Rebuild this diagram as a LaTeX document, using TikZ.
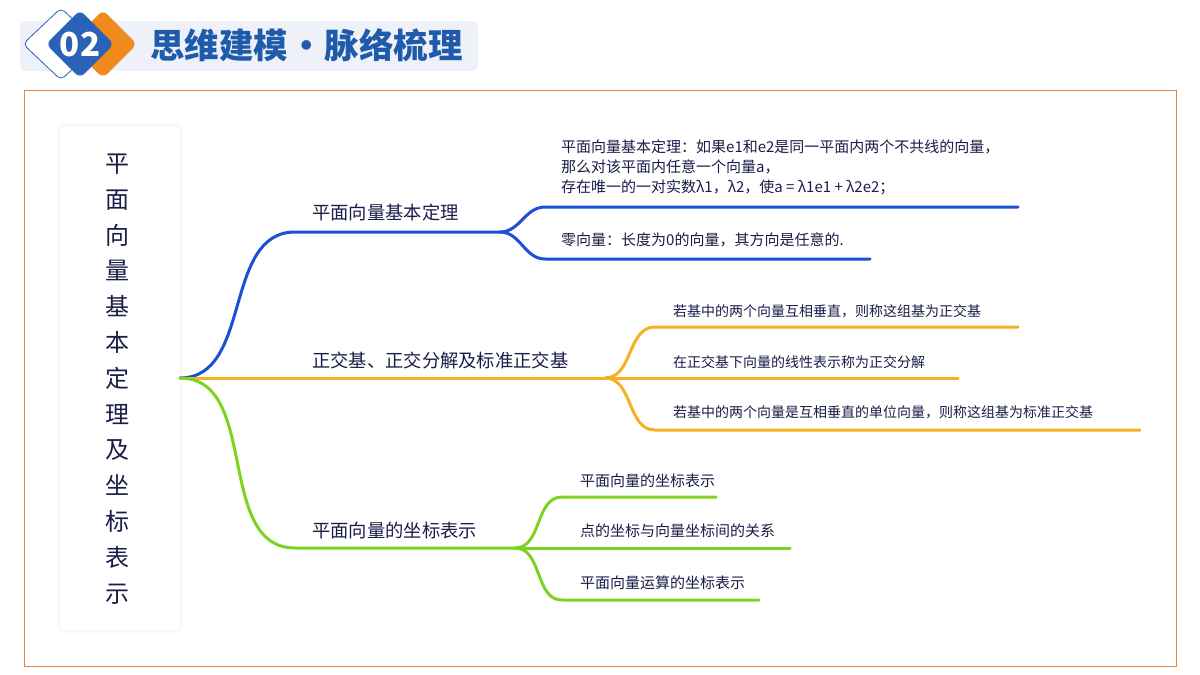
\documentclass[tikz,border=0pt]{standalone}
\usepackage{fontspec}
\setmainfont{Noto Sans CJK SC}
\definecolor{ink}{HTML}{1A1D48}
\definecolor{titleblue}{HTML}{1F5BAA}
\definecolor{hdrbg}{HTML}{EEF2F8}
\definecolor{dblue}{HTML}{2A62B8}
\definecolor{dorange}{HTML}{F08A1C}
\definecolor{frameor}{HTML}{E8833A}
\definecolor{bblue}{HTML}{1A4FD6}
\definecolor{borange}{HTML}{F4B223}
\definecolor{bgreen}{HTML}{7ED321}
\tikzset{
  branch/.style={line width=3pt, line cap=round},
  mainlabel/.style={anchor=west, inner sep=0pt, text=ink, font=\fontsize{18.3}{20}\selectfont},
  sublabel/.style={anchor=west, inner sep=0pt, text=ink, font=\fontsize{14}{20}\selectfont},
  sublabelb/.style={anchor=west, inner sep=0pt, text=ink, font=\fontsize{15}{20}\selectfont},
}
\begin{document}
\begin{tikzpicture}[x=1pt,y=-1pt]
\useasboundingbox (0,0) rectangle (1200,675);
\fill[white] (0,0) rectangle (1200,675);
% header
\fill[hdrbg, rounded corners=6pt] (20,21) rectangle (478,71);
\draw[dblue, line width=0.8pt, fill=white, rounded corners=5pt] (23,44) -- (61,8) -- (99,44) -- (61,80) -- cycle;
\fill[dorange, rounded corners=6pt] (69,44) -- (103,10) -- (137,44) -- (103,78) -- cycle;
\fill[dblue, rounded corners=6pt] (46,44) -- (80,10) -- (114,44) -- (80,78) -- cycle;
\node[text=white, font=\fontsize{33}{34}\selectfont\bfseries] (num) at (80,45) {02};
\node[anchor=west, inner sep=0pt, text=titleblue, font=\fontsize{34.5}{36}\selectfont\bfseries] (title) at (150,45) {思维建模\hspace{1pt}·\hspace{1pt}脉络梳理};
% frame
\draw[frameor, line width=1pt] (24,90) rectangle (1176,666);
% card
\fill[black!2, rounded corners=8pt] (57,123) rectangle (183,633);
\fill[black!4, rounded corners=7pt] (59,125) rectangle (181,631);
\fill[white, rounded corners=6pt] (60,126) rectangle (180,630);
\node[text=ink, align=center, inner sep=0pt, font=\fontsize{24}{35.8}\selectfont] (vt) at (117,379) {平\\面\\向\\量\\基\\本\\定\\理\\及\\坐\\标\\表\\示};
% coordinates
\coordinate (root) at (180,378);
\coordinate (b1) at (295,232);
\coordinate (b1e) at (500,232);
\coordinate (b1a) at (545,207);
\coordinate (b1ae) at (1018,207);
\coordinate (b1b) at (545,259);
\coordinate (b1be) at (870,259);
\coordinate (b2e) at (605,378);
\coordinate (b2a) at (655,327);
\coordinate (b2ae) at (1018,327);
\coordinate (b2be) at (958,378);
\coordinate (b2c) at (655,430);
\coordinate (b2ce) at (1140,430);
\coordinate (b3) at (295,548);
\coordinate (b3e) at (515,548);
\coordinate (b3a) at (562,497);
\coordinate (b3ae) at (716,497);
\coordinate (b3be) at (790,548);
\coordinate (b3c) at (562,600);
\coordinate (b3ce) at (759,600);
% blue branch
\draw[branch, bblue] (root) to[out=0,in=180] (b1) -- (b1e);
\draw[branch, bblue] (b1e) to[out=0,in=180] (b1a) -- (b1ae);
\draw[branch, bblue] (b1e) to[out=0,in=180] (b1b) -- (b1be);
% orange branch
\draw[branch, borange] (root) -- (b2e);
\draw[branch, borange] (b2e) to[out=0,in=180] (b2a) -- (b2ae);
\draw[branch, borange] (b2e) -- (b2be);
\draw[branch, borange] (b2e) to[out=0,in=180] (b2c) -- (b2ce);
% green branch
\draw[branch, bgreen] (root) to[out=0,in=180] (b3) -- (b3e);
\draw[branch, bgreen] (b3e) to[out=0,in=180] (b3a) -- (b3ae);
\draw[branch, bgreen] (b3e) -- (b3be);
\draw[branch, bgreen] (b3e) to[out=0,in=180] (b3c) -- (b3ce);
% labels
\node[mainlabel] (l1) at (312,213) {平面向量基本定理};
\node[mainlabel] (l2) at (312,360) {正交基、正交分解及标准正交基};
\node[mainlabel] (l3) at (312,531) {平面向量的坐标表示};
\node[sublabelb, align=left] (l1a) at (561,167) {平面向量基本定理：如果e1和e2是同一平面内两个不共线的向量，\\那么对该平面内任意一个向量a，\\存在唯一的一对实数λ1，λ2，使a = λ1e1 + λ2e2；};
\node[sublabelb] (l1b) at (561,240) {零向量：长度为0的向量，其方向是任意的.};
\node[sublabel] (l2a) at (673,311) {若基中的两个向量互相垂直，则称这组基为正交基};
\node[sublabel] (l2b) at (673,362) {在正交基下向量的线性表示称为正交分解};
\node[sublabel] (l2c) at (673,412) {若基中的两个向量是互相垂直的单位向量，则称这组基为标准正交基};
\node[sublabelb] (l3a) at (580,481) {平面向量的坐标表示};
\node[sublabelb] (l3b) at (580,531) {点的坐标与向量坐标间的关系};
\node[sublabelb] (l3c) at (580,583) {平面向量运算的坐标表示};
\end{tikzpicture}
\end{document}
